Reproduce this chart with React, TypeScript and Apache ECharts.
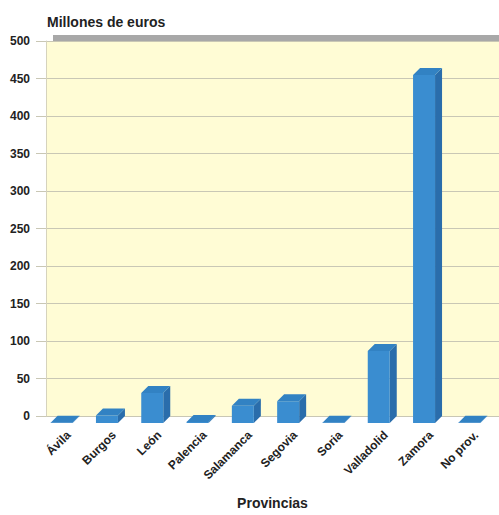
import React, { useEffect, useRef } from "react";
import * as echarts from "echarts";

const categories = ["Ávila", "Burgos", "León", "Palencia", "Salamanca", "Segovia", "Soria", "Valladolid", "Zamora", "No prov."];
const values = [0.5, 10, 40, 1.5, 23, 29, 0.5, 96, 464, 0.5];
const yTicks = { min: 0, max: 500, interval: 50 };

const DEPTH = 7;
const BACK_W = 22;

export default function App() {
  const ref = useRef<HTMLDivElement>(null);
  useEffect(() => {
    if (!ref.current) return;
    const chart = echarts.init(ref.current, null, { renderer: "svg" });
    const font = "Liberation Sans, Arial, sans-serif";
    chart.setOption({
      animation: false,
      backgroundColor: "#ffffff",
      title: {
        text: "Millones de euros",
        left: 47,
        top: 15,
        padding: 0,
        textStyle: { fontFamily: font, fontSize: 14, fontWeight: "bold", color: "#222" },
      },
      grid: { left: 46, right: 0, top: 41, bottom: 94, show: true, backgroundColor: "#fffcd5", borderWidth: 0 },
      graphic: [
        { type: "rect", shape: { x: 53, y: 35, width: 446, height: 6 }, style: { fill: "#a8a8a8" }, z: 10 },
      ],
      xAxis: {
        type: "category",
        data: categories,
        axisLine: { show: false },
        axisTick: { show: false },
        axisLabel: {
          rotate: 45,
          margin: 17,
          interval: 0,
          fontFamily: font,
          fontSize: 12,
          fontWeight: "bold",
          color: "#222",
        },
        name: "Provincias",
        nameLocation: "middle",
        nameGap: 80,
        nameTextStyle: { fontFamily: font, fontSize: 14, fontWeight: "bold", color: "#222" },
      },
      yAxis: {
        type: "value",
        min: yTicks.min,
        max: yTicks.max,
        interval: yTicks.interval,
        axisLine: { show: true, lineStyle: { color: "#d6d3bd", width: 1 } },
        axisTick: { show: true, length: 10, lineStyle: { color: "#c9c7b5" } },
        splitLine: { show: true, lineStyle: { color: "#c9c7b5", width: 1 } },
        axisLabel: { margin: 16, fontFamily: font, fontSize: 12, fontWeight: "bold", color: "#222" },
      },
      series: [
        {
          type: "custom",
          clip: false,
          data: values.map((v, i) => [i, v]),
          renderItem: (params: any, api: any) => {
            const idx = api.value(0);
            const v = api.value(1);
            const top = api.coord([idx, v]);
            const base = api.coord([idx, 0]);
            const cx = top[0];
            const yt = top[1];
            const y0 = base[1];
            const bl = cx - BACK_W / 2;
            const br = cx + BACK_W / 2;
            const fl = bl - DEPTH;
            const fr = br - DEPTH;
            return {
              type: "group",
              children: [
                {
                  type: "polygon",
                  shape: { points: [[fr, yt + DEPTH], [br, yt], [br, y0], [fr, y0 + DEPTH]] },
                  style: { fill: "#2a6dab" },
                },
                {
                  type: "rect",
                  shape: { x: fl, y: yt + DEPTH, width: BACK_W, height: y0 - yt },
                  style: { fill: "#3a8dd0" },
                },
                {
                  type: "polygon",
                  shape: { points: [[fl, yt + DEPTH], [fr, yt + DEPTH], [br, yt], [bl, yt]] },
                  style: { fill: "#3282c3" },
                },
              ],
            };
          },
        },
      ],
    });
    return () => chart.dispose();
  }, []);
  return <div ref={ref} style={{ position: "absolute", left: 0, top: 0, width: 499, height: 515 }} />;
}
